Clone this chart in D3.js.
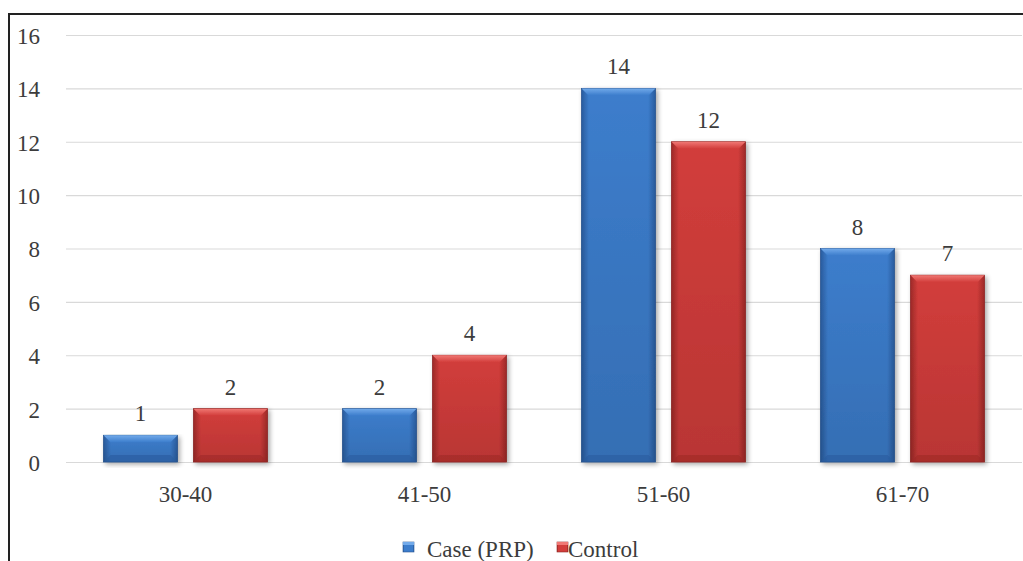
<!DOCTYPE html>
<html>
<head>
<meta charset="utf-8">
<script src="https://cdn.jsdelivr.net/npm/d3@7"></script>
<style>
  html, body { margin: 0; padding: 0; background: #fff; }
  svg { display: block; }
</style>
</head>
<body>
<svg id="chart" width="1023" height="561"></svg>
<script>
// Age groups and patient counts per group
const categories = ["30-40", "41-50", "51-60", "61-70"];
const seriesNames = ["Case (PRP)", "Control"];
const caseValues = [1, 2, 14, 8];
const controlValues = [2, 4, 12, 7];
const yTicks = [0, 2, 4, 6, 8, 10, 12, 14, 16];

const W = 1023, H = 561;
const plot = { left: 66, right: 1022, top: 35, bottom: 462 };
const FONT = "'Liberation Serif', 'Times New Roman', 'DejaVu Serif', serif";
const FONT_SIZE = 23;
const TEXT_COLOR = "#3c3c3c";

const svg = d3.select("#chart");

// Frame (left and top edges visible)
svg.append("path")
  .attr("d", `M9,${H} L9,14 L${W},14`)
  .attr("fill", "none").attr("stroke", "#222").attr("stroke-width", 2);

const y = d3.scaleLinear().domain([0, 16]).range([plot.bottom, plot.top]);
const x0 = d3.scaleBand().domain(categories).range([plot.left, plot.right])
  .paddingInner(0.314).paddingOuter(0.157);
const x1 = d3.scaleBand().domain(seriesNames).range([0, x0.bandwidth()]).paddingInner(0.178);

// Gradients for the bevelled bars
const defs = svg.append("defs");
const palettes = {
  "Case (PRP)": { base: "#3c7dcc", light: "#72aaea", dark: "#2a5c9e", edge: "#28548f" },
  "Control": { base: "#d23d3b", light: "#f07874", dark: "#9e2a28", edge: "#8e2624" }
};
Object.entries(palettes).forEach(([name, p], i) => {
  const g = defs.append("linearGradient").attr("id", "face" + i).attr("x1", 0).attr("x2", 1).attr("y1", 0).attr("y2", 0);
  g.append("stop").attr("offset", "0%").attr("stop-color", p.dark);
  g.append("stop").attr("offset", "10%").attr("stop-color", p.base);
  g.append("stop").attr("offset", "90%").attr("stop-color", p.base);
  g.append("stop").attr("offset", "100%").attr("stop-color", p.dark);
  const v = defs.append("linearGradient").attr("id", "shade" + i).attr("x1", 0).attr("x2", 0).attr("y1", 0).attr("y2", 1);
  v.append("stop").attr("offset", "0%").attr("stop-color", "#000").attr("stop-opacity", 0);
  v.append("stop").attr("offset", "100%").attr("stop-color", "#000").attr("stop-opacity", 0.12);
  const t = defs.append("linearGradient").attr("id", "top" + i).attr("x1", 0).attr("x2", 0).attr("y1", 0).attr("y2", 1);
  t.append("stop").attr("offset", "0%").attr("stop-color", p.light);
  t.append("stop").attr("offset", "100%").attr("stop-color", p.base);
});
const shadow = defs.append("filter").attr("id", "shadow").attr("x", "-10%").attr("y", "-10%").attr("width", "130%").attr("height", "130%");
shadow.append("feGaussianBlur").attr("in", "SourceAlpha").attr("stdDeviation", 2.5);
shadow.append("feOffset").attr("dx", 2).attr("dy", 2).attr("result", "b");
shadow.append("feComponentTransfer").append("feFuncA").attr("type", "linear").attr("slope", 0.35);
const merge = shadow.append("feMerge");
merge.append("feMergeNode");
merge.append("feMergeNode").attr("in", "SourceGraphic");

// Grid lines
svg.append("g").selectAll("line").data(yTicks).join("line")
  .attr("x1", plot.left).attr("x2", plot.right)
  .attr("y1", d => y(d) + 0.5).attr("y2", d => y(d) + 0.5)
  .attr("stroke", "#d9d9d9").attr("stroke-width", 1.2);

// Y axis labels
const yAxis = d3.axisLeft(y).tickValues(yTicks).tickSize(0).tickPadding(0);
const yg = svg.append("g").attr("transform", "translate(40,1)").call(yAxis)
  .attr("font-family", FONT).attr("font-size", FONT_SIZE);
yg.select(".domain").remove();
yg.selectAll("text").attr("fill", TEXT_COLOR);

// X axis labels
const xAxis = d3.axisBottom(x0).tickSize(0).tickPadding(0);
const xg = svg.append("g").attr("transform", `translate(0,${plot.bottom + 24})`).call(xAxis)
  .attr("font-family", FONT).attr("font-size", FONT_SIZE);
xg.select(".domain").remove();
xg.selectAll("text").attr("fill", TEXT_COLOR);

// Bars
const rows = categories.map((c, i) => ({
  cat: c,
  vals: [{ s: seriesNames[0], v: caseValues[i], k: 0 }, { s: seriesNames[1], v: controlValues[i], k: 1 }]
}));

const groups = svg.append("g").selectAll("g").data(rows).join("g")
  .attr("transform", d => `translate(${x0(d.cat)},0)`);

const bars = groups.selectAll("g.bar").data(d => d.vals).join("g").attr("class", "bar");

bars.each(function (d) {
  const g = d3.select(this);
  const p = palettes[d.s];
  const bx = x1(d.s), bw = x1.bandwidth();
  const top = y(d.v), bot = y(0), bh = bot - top;
  const bev = Math.min(7, bh / 2);
  const body = g.append("g").attr("filter", "url(#shadow)");
  body.append("rect").attr("x", bx).attr("y", top).attr("width", bw).attr("height", bh)
    .attr("fill", `url(#face${d.k})`).attr("stroke", p.edge).attr("stroke-width", 0.8);
  body.append("rect").attr("x", bx).attr("y", top).attr("width", bw).attr("height", bh)
    .attr("fill", `url(#shade${d.k})`);
  // top bevel
  body.append("path")
    .attr("d", `M${bx},${top} L${bx + bw},${top} L${bx + bw - bev},${top + bev} L${bx + bev},${top + bev} Z`)
    .attr("fill", `url(#top${d.k})`);
  // bottom bevel
  body.append("path")
    .attr("d", `M${bx},${bot} L${bx + bw},${bot} L${bx + bw - bev},${bot - bev} L${bx + bev},${bot - bev} Z`)
    .attr("fill", p.dark).attr("opacity", 0.6);
  // value label
  g.append("text").attr("x", bx + bw / 2).attr("y", top - 14)
    .attr("text-anchor", "middle").attr("font-family", FONT).attr("font-size", FONT_SIZE)
    .attr("fill", TEXT_COLOR).text(d.v);
});

// Legend
const legend = svg.append("g").attr("transform", "translate(0,557)");
const legendItems = [
  { name: seriesNames[0], k: 0, x: 403, tx: 427 },
  { name: seriesNames[1], k: 1, x: 557, tx: 568 }
];
legendItems.forEach(it => {
  const p = palettes[it.name];
  legend.append("rect").attr("x", it.x).attr("y", -15).attr("width", 11).attr("height", 10)
    .attr("fill", `url(#face${it.k})`).attr("stroke", p.edge).attr("stroke-width", 0.6);
  legend.append("rect").attr("x", it.x).attr("y", -15).attr("width", 11).attr("height", 3).attr("fill", p.light);
  legend.append("text").attr("x", it.tx).attr("y", 0).attr("font-family", FONT).attr("font-size", FONT_SIZE)
    .attr("fill", TEXT_COLOR).text(it.name);
});
</script>
</body>
</html>
